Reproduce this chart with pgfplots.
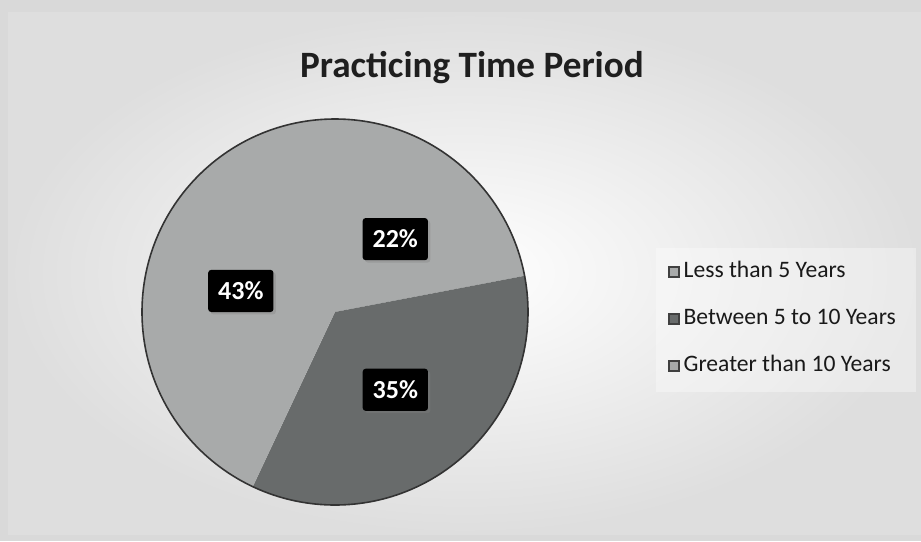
\documentclass[border=0pt]{standalone}
\usepackage{fontspec}
\setmainfont{Carlito}
\usepackage{pgfplots}
\pgfplotsset{compat=1.18}
\usepackage{pgfplotstable}
\usetikzlibrary{shadows}
\definecolor{lightA}{RGB}{168,170,170}
\definecolor{lightC}{RGB}{168,170,170}
\definecolor{darkB}{RGB}{104,107,107}
\definecolor{bgedge}{RGB}{222,222,222}
\tikzset{labelbox/.style={fill=black, text=white, rounded corners=1.5pt,
    font=\bfseries\fontsize{13}{15}\selectfont, inner xsep=5pt, inner ysep=6pt,
    drop shadow={opacity=0.35, shadow xshift=1.2pt, shadow yshift=-1.2pt}}}
\pgfplotstableread{
name value
Less 22
Between 35
Greater 43
}\piedata
\begin{document}
\begin{tikzpicture}
\pgfplotstablegetelem{0}{value}\of\piedata \edef\va{\pgfplotsretval}
\pgfplotstablegetelem{1}{value}\of\piedata \edef\vb{\pgfplotsretval}
\pgfplotstablegetelem{2}{value}\of\piedata \edef\vc{\pgfplotsretval}
\pgfmathsetmacro\aA{90}
\pgfmathsetmacro\aB{\aA-3.6*\va}
\pgfmathsetmacro\aC{\aB-3.6*\vb}
\pgfmathsetmacro\aD{\aC-3.6*\vc}
\pgfmathsetmacro\mA{(\aA+\aB)/2}
\pgfmathsetmacro\mB{(\aB+\aC)/2}
\pgfmathsetmacro\mC{(\aC+\aD)/2}
\fill[black!15] (0pt,0pt) rectangle (460.5pt,-270.5pt);
\shade[inner color=white, outer color=bgedge] (4pt,-6pt) rectangle (460.5pt,-267pt);
\fill[white, opacity=0.35] (328pt,-124pt) rectangle (458pt,-196pt);
\node[font=\bfseries\fontsize{18.6}{22}\selectfont, text=black!88] at (236pt,-34pt) {Practicing Time Period};
\begin{axis}[
  at={(167.5pt,-156pt)}, anchor=center,
  scale only axis, width=193pt, height=193pt,
  xmin=-1, xmax=1, ymin=-1, ymax=1,
  hide axis, clip=false,
  legend cell align=left,
  legend style={at={(axis description cs:1.3627,0.482)}, anchor=west,
    draw=none, fill=none, inner sep=0pt, row sep=9pt,
    font=\fontsize{11.8}{14}\selectfont, text=black!90,
    nodes={inner sep=2pt, text height=8pt, text depth=2.5pt}},
  legend image code/.code={\draw[#1, draw=black!75, line width=0.6pt] (0pt,-2.5pt) rectangle (5pt,2.5pt);},
]
\addlegendimage{fill=lightA}
\addlegendentry{Less than 5 Years}
\addlegendimage{fill=darkB}
\addlegendentry{Between 5 to 10 Years}
\addlegendimage{fill=lightC}
\addlegendentry{Greater than 10 Years}
\fill[lightA] (axis cs:0,0) -- (axis cs:{cos(\aA)},{sin(\aA)}) arc[start angle=\aA, end angle=\aB, radius=96.5pt] -- cycle;
\fill[darkB] (axis cs:0,0) -- (axis cs:{cos(\aB)},{sin(\aB)}) arc[start angle=\aB, end angle=\aC, radius=96.5pt] -- cycle;
\fill[lightC] (axis cs:0,0) -- (axis cs:{cos(\aC)},{sin(\aC)}) arc[start angle=\aC, end angle=\aD, radius=96.5pt] -- cycle;
\draw[black!80, line width=0.8pt] (axis cs:0,0) circle[radius=96.5pt];
\node[labelbox] at (axis cs:{0.49*cos(\mA)},{0.49*sin(\mA)}) {\va\%};
\node[labelbox] at (axis cs:{0.51*cos(\mB)},{0.51*sin(\mB)}) {\vb\%};
\node[labelbox] at (axis cs:{0.50*cos(\mC)},{0.50*sin(\mC)}) {\vc\%};
\end{axis}
\end{tikzpicture}
\end{document}
